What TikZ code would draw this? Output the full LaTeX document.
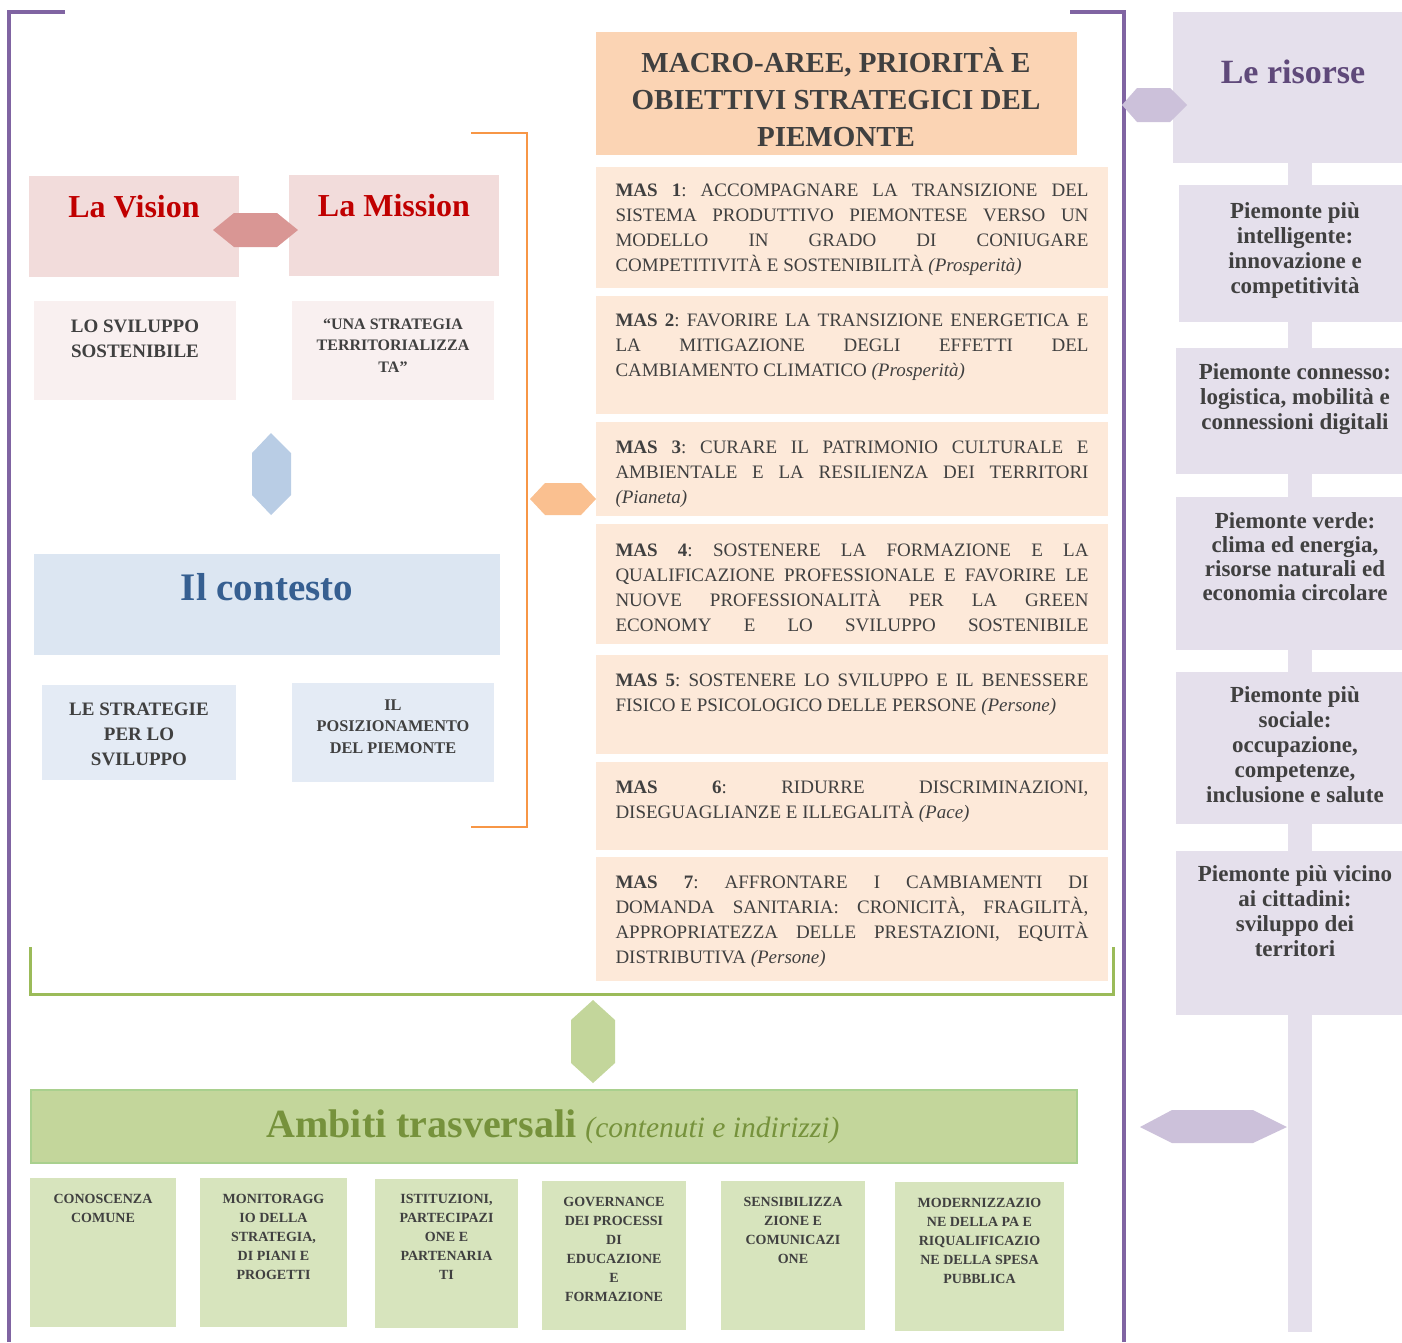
\documentclass[tikz,border=0pt]{standalone}
\usepackage{fontspec}
\setmainfont{Liberation Serif}
\frenchspacing
\definecolor{txt}{HTML}{404040}
\definecolor{purpleline}{HTML}{8064A2}
\definecolor{orangeline}{HTML}{F79646}
\definecolor{greenline}{HTML}{9BBB59}
\definecolor{visfill}{HTML}{F2DCDB}
\definecolor{pinkhex}{HTML}{D99694}
\definecolor{lpink}{HTML}{F9F0F0}
\definecolor{redtxt}{HTML}{C00000}
\definecolor{bluehex}{HTML}{B9CDE5}
\definecolor{ctxfill}{HTML}{DCE6F2}
\definecolor{ctxtxt}{HTML}{365F91}
\definecolor{lblue}{HTML}{E4EBF5}
\definecolor{orangehex}{HTML}{FAC090}
\definecolor{macrofill}{HTML}{FBD4B4}
\definecolor{masfill}{HTML}{FDE9D9}
\definecolor{lav}{HTML}{E5E0EC}
\definecolor{lavtxt}{HTML}{5F497A}
\definecolor{lavhex}{HTML}{CCC1DA}
\definecolor{greenhex}{HTML}{C3D69B}
\definecolor{ambfill}{HTML}{C3D69B}
\definecolor{ambborder}{HTML}{A9D08E}
\definecolor{ambtxt}{HTML}{76923C}
\definecolor{lgreen}{HTML}{D7E4BD}
\newcommand\bx[6]{\node[fill=#6,inner sep=0,outer sep=0,anchor=north west,minimum width=#3pt-#1pt,minimum height=#4pt-#2pt] (#5) at (#1,#2) {};}
\newcommand\jl[1]{\makebox[473pt][s]{#1}\\}
\begin{document}
\begin{tikzpicture}[x=1pt,y=-1pt,
  tx/.style={inner sep=0,outer sep=0,anchor=base,text=txt},
  mastx/.style={inner sep=0,outer sep=0,anchor=base west,text=txt},
  frame/.style={line width=3.5pt,purpleline},
  obracket/.style={line width=2pt,orangeline},
  gbracket/.style={line width=3pt,greenline}]
\useasboundingbox (0,0) rectangle (1402,1342);
% right column bar
\fill[lav] (1288,160) rectangle (1312,1332);
% frame lines
\draw[frame] (65,12) -- (9,12) -- (9,1342);
\draw[frame] (1070,12) -- (1124,12) -- (1124,1342);
\draw[obracket] (471,133) -- (527,133) -- (527,827) -- (471,827);
\draw[gbracket] (30,947) -- (30,994) -- (1113,994) -- (1113,947);
% left boxes
\bx{29}{176}{239}{277}{vision}{visfill}
\bx{289}{175}{499}{276}{mission}{visfill}
\bx{34}{301}{236}{400}{sviluppo}{lpink}
\bx{292}{301}{494}{400}{strategia}{lpink}
\bx{34}{554}{500}{655}{contesto}{ctxfill}
\bx{42}{685}{236}{780}{strategie}{lblue}
\bx{292}{683}{494}{782}{posiz}{lblue}
% MAS column
\bx{596}{32}{1077}{155}{macro}{macrofill}
\bx{596}{167}{1108}{288}{mas1}{masfill}
\bx{596}{296}{1108}{414}{mas2}{masfill}
\bx{596}{422}{1108}{516}{mas3}{masfill}
\bx{596}{524}{1108}{644}{mas4}{masfill}
\bx{596}{655}{1108}{754}{mas5}{masfill}
\bx{596}{762}{1108}{850}{mas6}{masfill}
\bx{596}{857}{1108}{981}{mas7}{masfill}
% right column
\bx{1173}{12}{1402}{163}{risorse}{lav}
\bx{1179}{185}{1402}{322}{r1}{lav}
\bx{1176}{348}{1402}{474}{r2}{lav}
\bx{1176}{497}{1402}{650}{r3}{lav}
\bx{1176}{672}{1402}{824}{r4}{lav}
\bx{1176}{851}{1402}{1015}{r5}{lav}
% bottom
\node[fill=ambfill,draw=ambborder,line width=1.5pt,inner sep=0,anchor=north west,minimum width=1046pt,minimum height=73pt] (ambiti) at (30,1089) {};
\bx{30}{1178}{176}{1327}{b1}{lgreen}
\bx{200}{1178}{347}{1327}{b2}{lgreen}
\bx{375}{1179}{518}{1328}{b3}{lgreen}
\bx{542}{1181}{686}{1330}{b4}{lgreen}
\bx{721}{1181}{865}{1330}{b5}{lgreen}
\bx{895}{1182}{1064}{1331}{b6}{lgreen}
% hexagon connectors
\fill[pinkhex] (213,230) -- (234,213) -- (277,213) -- (298,230) -- (277,247) -- (234,247) -- cycle;
\fill[bluehex] (271,433) -- (252,453) -- (252,495) -- (271,515) -- (291,495) -- (291,453) -- cycle;
\fill[orangehex] (530,499) -- (545,483) -- (581,483) -- (596,499) -- (581,515) -- (545,515) -- cycle;
\fill[greenhex] (593,1000) -- (571,1020) -- (571,1063) -- (593,1083) -- (615,1063) -- (615,1020) -- cycle;
\fill[lavhex] (1122,105) -- (1137,88) -- (1170,88) -- (1187,105) -- (1170,122) -- (1137,122) -- cycle;
\fill[lavhex] (1140,1127) -- (1172,1110) -- (1253,1110) -- (1287,1127) -- (1253,1143) -- (1172,1143) -- cycle;
% texts left
\node[tx,text=redtxt] (visT) at (134,217) {\fontsize{32}{38}\selectfont\bfseries La Vision};
\node[tx,text=redtxt] (misT) at (394,216) {\fontsize{32}{38}\selectfont\bfseries La Mission};
\node[tx] (svT) at (135,332) {\parbox[t]{200pt}{\centering\fontsize{19}{25}\selectfont\bfseries LO SVILUPPO\\SOSTENIBILE}};
\node[tx] (stT) at (393,329) {\parbox[t]{200pt}{\centering\fontsize{16}{21.5}\selectfont\bfseries “UNA STRATEGIA\\TERRITORIALIZZA\\TA”}};
\node[tx,text=ctxtxt] (ctxT) at (267,600) {\fontsize{39}{44}\selectfont\bfseries Il contesto};
\node[tx] (sgT) at (139,715) {\parbox[t]{190pt}{\centering\fontsize{19}{25}\selectfont\bfseries LE STRATEGIE\\PER LO\\SVILUPPO}};
\node[tx] (psT) at (393,710) {\parbox[t]{200pt}{\centering\fontsize{16.3}{21.5}\selectfont\bfseries IL\\POSIZIONAMENTO\\DEL PIEMONTE}};
% macro title
\node[tx] (macroT) at (836,72) {\parbox[t]{470pt}{\centering\fontsize{29}{37}\selectfont\bfseries MACRO-AREE, PRIORITÀ E\\OBIETTIVI STRATEGICI DEL\\PIEMONTE}};
% MAS texts
\node[mastx] (m1T) at (615.5,196) {\parbox[t]{473pt}{\fontsize{19}{25}\selectfont
\jl{\textbf{MAS 1}: ACCOMPAGNARE LA TRANSIZIONE DEL}
\jl{SISTEMA PRODUTTIVO PIEMONTESE VERSO UN}
\jl{MODELLO IN GRADO DI CONIUGARE}
COMPETITIVITÀ E SOSTENIBILITÀ \textit{(Prosperità)}}};
\node[mastx] (m2T) at (615.5,326) {\parbox[t]{473pt}{\fontsize{19}{25}\selectfont
\jl{\textbf{MAS 2}: FAVORIRE LA TRANSIZIONE ENERGETICA E}
\jl{LA MITIGAZIONE DEGLI EFFETTI DEL}
CAMBIAMENTO CLIMATICO \textit{(Prosperità)}}};
\node[mastx] (m3T) at (615.5,453) {\parbox[t]{473pt}{\fontsize{19}{25}\selectfont
\jl{\textbf{MAS 3}: CURARE IL PATRIMONIO CULTURALE E}
\jl{AMBIENTALE E LA RESILIENZA DEI TERRITORI}
\textit{(Pianeta)}}};
\node[mastx] (m4T) at (615.5,556) {\parbox[t]{473pt}{\fontsize{19}{25}\selectfont
\jl{\textbf{MAS 4}: SOSTENERE LA FORMAZIONE E LA}
\jl{QUALIFICAZIONE PROFESSIONALE E FAVORIRE LE}
\jl{NUOVE PROFESSIONALITÀ PER LA GREEN}
\makebox[473pt][s]{ECONOMY E LO SVILUPPO SOSTENIBILE}}};
\node[mastx] (m5T) at (615.5,686) {\parbox[t]{473pt}{\fontsize{19}{25}\selectfont
\jl{\textbf{MAS 5}: SOSTENERE LO SVILUPPO E IL BENESSERE}
FISICO E PSICOLOGICO DELLE PERSONE \textit{(Persone)}}};
\node[mastx] (m6T) at (615.5,793) {\parbox[t]{473pt}{\fontsize{19}{25}\selectfont
\jl{\textbf{MAS 6}: RIDURRE DISCRIMINAZIONI,}
DISEGUAGLIANZE E ILLEGALITÀ \textit{(Pace)}}};
\node[mastx] (m7T) at (615.5,888) {\parbox[t]{473pt}{\fontsize{19}{25}\selectfont
\jl{\textbf{MAS 7}: AFFRONTARE I CAMBIAMENTI DI}
\jl{DOMANDA SANITARIA: CRONICITÀ, FRAGILITÀ,}
\jl{APPROPRIATEZZA DELLE PRESTAZIONI, EQUITÀ}
DISTRIBUTIVA \textit{(Persone)}}};
% right texts
\node[tx,text=lavtxt] (risT) at (1293,83) {\fontsize{34}{40}\selectfont\bfseries Le risorse};
\node[tx] (r1T) at (1295,218) {\parbox[t]{220pt}{\centering\fontsize{23}{25}\selectfont\bfseries Piemonte più\\intelligente:\\innovazione e\\competitività}};
\node[tx] (r2T) at (1295,379) {\parbox[t]{220pt}{\centering\fontsize{23}{25}\selectfont\bfseries Piemonte connesso:\\logistica, mobilità e\\connessioni digitali}};
\node[tx] (r3T) at (1295,528) {\parbox[t]{220pt}{\centering\fontsize{23}{24}\selectfont\bfseries Piemonte verde:\\clima ed energia,\\risorse naturali ed\\economia circolare}};
\node[tx] (r4T) at (1295,702) {\parbox[t]{220pt}{\centering\fontsize{23}{25}\selectfont\bfseries Piemonte più\\sociale:\\occupazione,\\competenze,\\inclusione e salute}};
\node[tx] (r5T) at (1295,881) {\parbox[t]{220pt}{\centering\fontsize{23}{25}\selectfont\bfseries Piemonte più vicino\\ai cittadini:\\sviluppo dei\\territori}};
% ambiti
\node[tx,text=ambtxt] (ambT) at (553,1137) {{\fontsize{40}{44}\selectfont\bfseries Ambiti trasversali}\hspace{9pt}{\fontsize{29.5}{34}\selectfont\itshape (contenuti e indirizzi)}};
\node[tx] (b1T) at (103,1203) {\parbox[t]{140pt}{\centering\fontsize{14}{19}\selectfont\bfseries CONOSCENZA\\COMUNE}};
\node[tx] (b2T) at (273.5,1203) {\parbox[t]{140pt}{\centering\fontsize{14}{19}\selectfont\bfseries MONITORAGG\\IO DELLA\\STRATEGIA,\\DI PIANI E\\PROGETTI}};
\node[tx] (b3T) at (446.5,1203) {\parbox[t]{140pt}{\centering\fontsize{14}{19}\selectfont\bfseries ISTITUZIONI,\\PARTECIPAZI\\ONE E\\PARTENARIA\\TI}};
\node[tx] (b4T) at (614,1206) {\parbox[t]{140pt}{\centering\fontsize{14}{19}\selectfont\bfseries GOVERNANCE\\DEI PROCESSI\\DI\\EDUCAZIONE\\E\\FORMAZIONE}};
\node[tx] (b5T) at (793,1206) {\parbox[t]{140pt}{\centering\fontsize{14}{19}\selectfont\bfseries SENSIBILIZZA\\ZIONE E\\COMUNICAZI\\ONE}};
\node[tx] (b6T) at (979.5,1207) {\parbox[t]{165pt}{\centering\fontsize{14}{19}\selectfont\bfseries MODERNIZZAZIO\\NE DELLA PA E\\RIQUALIFICAZIO\\NE DELLA SPESA\\PUBBLICA}};
\end{tikzpicture}
\end{document}
